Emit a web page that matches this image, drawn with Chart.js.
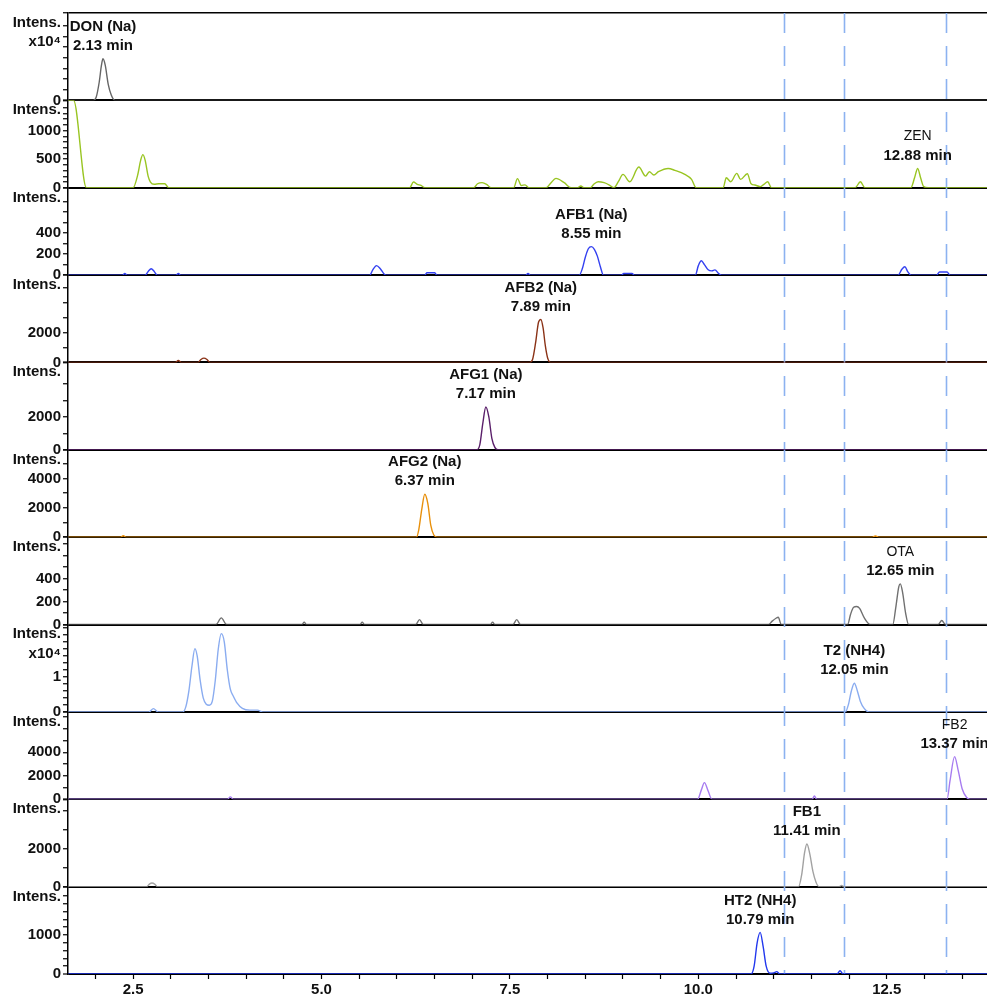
<!DOCTYPE html>
<html>
<head>
<meta charset="utf-8">
<script src="https://cdn.jsdelivr.net/npm/chart.js@4.4.1/dist/chart.umd.min.js"></script>
<style>
  html, body { margin: 0; padding: 0; background: #fff; }
  #wrap { width: 987px; height: 996px; position: relative; }
</style>
</head>
<body>
<div id="wrap"><canvas id="chrom"></canvas></div>
<script>
// retention time axis (min)
const timeMin = 1.636;
const timeMax = 13.83;
const xTickStep = 0.5;
const xTickLabels = [2.5, 5.0, 7.5, 10.0, 12.5];

// dashed marker lines (min)
const markerTimes = [11.14, 11.93, 13.29];

// one trace per panel, [time, intensity]
const donTrace = [[1.64,0],[1.97,0],[2.01,0.03],[2.05,0.17],[2.08,0.33],[2.10,0.39],[2.13,0.33],[2.17,0.15],[2.21,0.05],[2.26,0],[13.83,0]];
const zenTrace = [[1.64,1530],[1.71,1530],[1.88,0],[2.50,0],[2.56,220],[2.60,480],[2.63,580],[2.66,480],[2.70,200],[2.73,100],[2.78,60],[2.84,70],[2.92,70],[2.97,0],
  [6.17,0],[6.22,100],[6.27,60],[6.32,40],[6.37,0],[7.02,0],[7.07,70],[7.13,90],[7.19,60],[7.25,0],[7.55,0],[7.60,160],[7.65,40],[7.70,50],[7.75,0],
  [7.98,0],[8.04,80],[8.11,163],[8.22,88],[8.31,0],[8.40,0],[8.44,30],[8.48,0],[8.57,0],[8.61,58],[8.67,105],[8.75,88],[8.82,47],[8.88,0],
  [8.94,110],[9.00,233],[9.09,105],[9.21,362],[9.30,204],[9.35,280],[9.41,222],[9.47,280],[9.60,338],[9.69,303],[9.82,233],[9.91,146],[9.97,0],
  [10.33,0],[10.37,175],[10.43,105],[10.51,251],[10.56,146],[10.65,245],[10.70,70],[10.75,47],[10.82,20],[10.87,60],[10.92,105],[10.97,0],
  [12.08,0],[12.15,105],[12.21,0],[12.82,0],[12.87,180],[12.91,338],[12.95,170],[12.99,20],[13.05,0],[13.83,0]];
const afb1Trace = [[1.64,0],[2.36,0],[2.39,15],[2.42,0],[2.66,0],[2.70,35],[2.74,60],[2.78,35],[2.82,0],[3.07,0],[3.10,15],[3.13,0],
  [5.64,0],[5.68,50],[5.73,90],[5.78,60],[5.83,10],[5.86,0],[6.37,0],[6.40,22],[6.50,22],[6.53,0],[7.71,0],[7.74,15],[7.77,0],
  [8.42,0],[8.46,60],[8.50,170],[8.54,250],[8.58,270],[8.62,245],[8.66,180],[8.70,80],[8.74,0],[8.98,0],[9.01,15],[9.12,15],[9.15,0],
  [9.96,0],[10.00,90],[10.04,136],[10.08,100],[10.13,50],[10.18,40],[10.22,50],[10.27,15],[10.31,0],
  [12.65,0],[12.70,55],[12.74,79],[12.78,30],[12.82,0],[13.16,0],[13.20,30],[13.30,30],[13.34,0],[13.83,0]];
const afb2Trace = [[1.64,0],[3.06,0],[3.10,130],[3.14,0],[3.36,0],[3.40,200],[3.44,290],[3.48,200],[3.52,0],
  [7.76,0],[7.80,200],[7.84,1300],[7.88,2700],[7.91,2870],[7.94,2300],[7.97,1100],[8.00,300],[8.04,0],[13.83,0]];
const afg1Trace = [[1.64,0],[7.06,0],[7.10,300],[7.14,1600],[7.18,2600],[7.22,2000],[7.26,700],[7.30,150],[7.34,0],[13.83,0]];
const afg2Trace = [[1.64,0],[2.33,0],[2.37,100],[2.41,0],[6.26,0],[6.29,500],[6.33,1900],[6.37,2920],[6.41,2300],[6.45,800],[6.49,150],[6.54,0],
  [12.30,0],[12.35,80],[12.40,0],[13.83,0]];
const otaTrace = [[1.64,0],[3.60,0],[3.67,58],[3.74,0],[4.74,0],[4.77,20],[4.80,0],[5.51,0],[5.54,20],[5.57,0],[6.25,0],[6.30,43],[6.35,0],
  [7.24,0],[7.27,20],[7.30,0],[7.54,0],[7.59,43],[7.64,0],[10.93,0],[10.98,30],[11.03,55],[11.06,64],[11.10,0],
  [11.98,0],[12.02,90],[12.06,150],[12.10,157],[12.14,140],[12.20,60],[12.28,0],
  [12.58,0],[12.62,150],[12.66,330],[12.68,354],[12.71,280],[12.75,100],[12.79,0],[13.18,0],[13.23,35],[13.28,0],[13.83,0]];
const t2Trace = [[1.64,0],[2.71,0],[2.77,0.095],[2.83,0],[3.16,0],[3.20,0.15],[3.24,0.6],[3.28,1.3],[3.32,1.81],[3.35,1.6],[3.39,0.9],[3.43,0.4],
  [3.47,0.22],[3.51,0.19],[3.55,0.3],[3.59,0.9],[3.63,1.8],[3.67,2.24],[3.71,2.0],[3.75,1.2],[3.79,0.65],[3.83,0.45],[3.88,0.25],[3.95,0.1],
  [4.05,0.05],[4.15,0.05],[4.22,0],[11.95,0],[11.99,0.2],[12.03,0.6],[12.07,0.82],[12.11,0.6],[12.15,0.3],[12.20,0.1],[12.26,0],[13.83,0]];
const fb2Trace = [[1.64,0],[3.75,0],[3.79,200],[3.83,0],[9.99,0],[10.04,800],[10.08,1420],[10.13,700],[10.18,0],[11.51,0],[11.54,280],[11.57,0],
  [13.30,0],[13.34,1600],[13.40,3630],[13.45,2400],[13.50,900],[13.56,150],[13.60,0],[13.83,0]];
const fb1Trace = [[1.64,0],[2.68,0],[2.72,150],[2.75,190],[2.79,120],[2.82,0],[11.33,0],[11.37,600],[11.41,1800],[11.44,2245],[11.48,1700],
  [11.52,800],[11.56,250],[11.60,0],[11.87,0],[11.90,60],[11.93,0],[13.83,0]];
const ht2Trace = [[1.64,0],[10.70,0],[10.74,200],[10.78,800],[10.82,1067],[10.86,700],[10.90,200],[10.95,20],[11.00,30],[11.04,60],[11.08,0],
  [11.84,0],[11.88,85],[11.92,0],[13.83,0]];

const traces = [donTrace, zenTrace, afb1Trace, afb2Trace, afg1Trace, afg2Trace, otaTrace, t2Trace, fb2Trace, fb1Trace, ht2Trace];

// per-panel intensity scale
const panelMax = [0.82, 1530, 830, 5830, 5300, 5950, 760, 2.5, 7440, 4600, 2240];
const panelStep = [0.1, 100, 100, 1000, 1000, 1000, 100, 0.2, 1000, 1000, 200];
const panelTickLabels = [[], [500, 1000], [200, 400], [2000], [2000], [2000, 4000], [200, 400], [1], [2000, 4000], [2000], [1000]];
const panelTimes1e4 = [true, false, false, false, false, false, false, true, false, false, false];

const traceColors = ['#666666', '#99c522', '#3340f0', '#8a3216', '#5a1f6a', '#e8900c', '#707070', '#8aacf0', '#a77cf0', '#a2a2a2', '#2238ee'];

// peak annotations
const peakLabels = [
  { panel: 0,  t: 2.10,  v: 0.39, name: 'DON (Na)',  rt: '2.13 min',  bold: true },
  { panel: 1,  t: 12.91, v: 338,  name: 'ZEN',       rt: '12.88 min', bold: false },
  { panel: 2,  t: 8.58,  v: 270,  name: 'AFB1 (Na)', rt: '8.55 min',  bold: true },
  { panel: 3,  t: 7.91,  v: 2870, name: 'AFB2 (Na)', rt: '7.89 min',  bold: true },
  { panel: 4,  t: 7.18,  v: 2600, name: 'AFG1 (Na)', rt: '7.17 min',  bold: true },
  { panel: 5,  t: 6.37,  v: 2920, name: 'AFG2 (Na)', rt: '6.37 min',  bold: true },
  { panel: 6,  t: 12.68, v: 354,  name: 'OTA',       rt: '12.65 min', bold: false },
  { panel: 7,  t: 12.07, v: 0.82, name: 'T2 (NH4)',  rt: '12.05 min', bold: true },
  { panel: 8,  t: 13.40, v: 3630, name: 'FB2',       rt: '13.37 min', bold: false },
  { panel: 9,  t: 11.44, v: 2245, name: 'FB1',       rt: '11.41 min', bold: true },
  { panel: 10, t: 10.82, v: 1067, name: 'HT2 (NH4)', rt: '10.79 min', bold: true }
];

const FONT = "'Liberation Sans', Arial, 'DejaVu Sans', sans-serif";
const tickFont = { family: FONT, size: 15, weight: 'bold', lineHeight: 1.3 };

const scales = {
  x: {
    type: 'linear',
    position: 'bottom',
    min: timeMin,
    max: timeMax,
    border: { color: '#000', width: 1.5 },
    grid: { drawOnChartArea: false, tickLength: 5, tickColor: '#000', tickWidth: 1.2 },
    ticks: {
      stepSize: xTickStep,
      includeBounds: false,
      autoSkip: false,
      maxRotation: 0,
      minRotation: 0,
      padding: 1,
      color: '#111',
      font: tickFont,
      callback: v => xTickLabels.some(l => Math.abs(l - v) < 1e-6) ? v.toFixed(1) : ''
    },
    afterFit: s => { s.height = 22; s.paddingLeft = 0; s.paddingRight = 0; }
  }
};

traces.forEach((tr, i) => {
  scales['y' + i] = {
    type: 'linear',
    position: 'left',
    stack: 'panels',
    stackWeight: 1,
    weight: traces.length - i,
    offset: false,
    min: 0,
    max: panelMax[i],
    border: { color: '#000', width: 1.5 },
    grid: {
      drawOnChartArea: true,
      color: c => {
        if (!c.tick) return 'rgba(0,0,0,0)';
        if (c.tick.value === 0) return '#000';
        if (i === 0 && c.index === c.scale.ticks.length - 1) return '#000';
        return 'rgba(0,0,0,0)';
      },
      lineWidth: c => (c.tick && c.tick.value === 0) ? 2 : 1.5,
      tickColor: '#000',
      tickLength: 5,
      tickWidth: 1.2
    },
    ticks: {
      autoSkip: false,
      padding: 2,
      color: '#111',
      font: tickFont,
      callback: (v, idx, ticks) => {
        if (idx === ticks.length - 1) {
          return panelTimes1e4[i] ? ['', '', 'Intens.', 'x10\u2074'] : ['', 'Intens.'];
        }
        if (v === 0) return '0';
        if (panelTickLabels[i].some(l => Math.abs(l - v) < 1e-6)) return String(Math.round(v * 100) / 100);
        return '';
      }
    },
    // regular tick marks every step, plus one at the panel top
    afterBuildTicks: s => {
      const step = panelStep[i];
      const ticks = [];
      for (let k = 0; k * step < panelMax[i] - step * 0.3; k++) {
        ticks.push({ value: Math.round(k * step * 1000) / 1000 });
      }
      ticks.push({ value: panelMax[i] });
      s.ticks = ticks;
    },
    afterFit: s => { s.width = 68; s.paddingTop = 0; s.paddingBottom = 0; }
  };
});

const markerPlugin = {
  id: 'markers',
  beforeDatasetsDraw(chart) {
    const { ctx, chartArea, scales } = chart;
    ctx.save();
    ctx.strokeStyle = '#8cb2f0';
    ctx.lineWidth = 1.6;
    ctx.setLineDash([20, 13]);
    markerTimes.forEach(t => {
      const x = Math.round(scales.x.getPixelForValue(t)) + 0.5;
      ctx.beginPath();
      ctx.moveTo(x, chartArea.top);
      ctx.lineTo(x, chartArea.bottom);
      ctx.stroke();
    });
    ctx.restore();
  }
};

const peakLabelPlugin = {
  id: 'peakLabels',
  afterDatasetsDraw(chart) {
    const { ctx, scales } = chart;
    ctx.save();
    ctx.textAlign = 'center';
    ctx.textBaseline = 'middle';
    ctx.fillStyle = '#111';
    peakLabels.forEach(l => {
      const x = scales.x.getPixelForValue(l.t);
      const y = scales['y' + l.panel].getPixelForValue(l.v);
      ctx.font = l.bold ? `bold 15px ${FONT}` : `14px ${FONT}`;
      ctx.fillText(l.name, x, y - 32);
      ctx.font = `bold 15px ${FONT}`;
      ctx.fillText(l.rt, x, y - 13);
    });
    ctx.restore();
  }
};

new Chart(document.getElementById('chrom'), {
  type: 'line',
  data: {
    datasets: traces.map((tr, i) => ({
      data: tr,
      xAxisID: 'x',
      yAxisID: 'y' + i,
      borderColor: traceColors[i],
      borderWidth: 1.4,
      pointRadius: 0,
      fill: false,
      cubicInterpolationMode: 'monotone'
    }))
  },
  options: {
    responsive: true,
    maintainAspectRatio: false,
    animation: false,
    layout: { padding: { top: 13, left: 0, right: 0, bottom: 0 } },
    plugins: { legend: { display: false }, tooltip: { enabled: false } },
    scales: scales
  },
  plugins: [markerPlugin, peakLabelPlugin]
});
</script>
</body>
</html>
